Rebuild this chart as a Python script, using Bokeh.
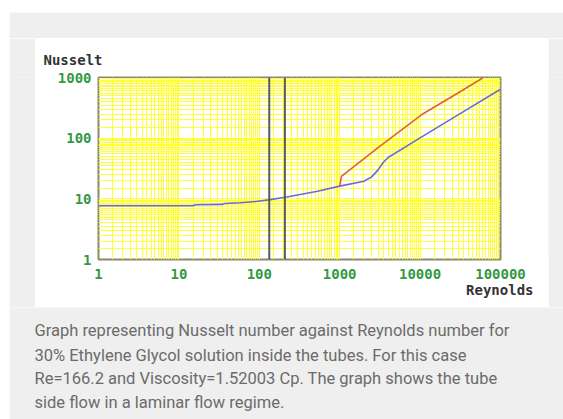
from bokeh.plotting import figure
from bokeh.layouts import column, row
from bokeh.models import (Range1d, FixedTicker, NumeralTickFormatter, Span,
                          Label, Title)
from bokeh.embed import file_html
from bokeh.resources import INLINE

# ---- data ----
x_ticks = [1, 10, 100, 1000, 10000, 100000]
y_ticks = [1, 10, 100, 1000]

re_blue = [1, 15, 16, 35, 37, 58, 95, 130, 212, 530, 1000, 2000, 2500, 3000,
           3500, 4000, 10000, 30000, 100000]
nu_blue = [7.7, 7.7, 8.0, 8.1, 8.4, 8.6, 9.1, 9.6, 10.6, 13.3, 16.2, 19.5, 23,
           30, 40, 48, 101, 244, 640]

re_red = [1000, 1050, 3000, 10500, 30000, 60000]
nu_red = [16.2, 23.5, 70, 245, 560, 980]

re_marks = [133, 208]

caption = [
    "Graph representing Nusselt number against Reynolds number for",
    "30% Ethylene Glycol solution inside the tubes. For this case",
    "Re=166.2 and Viscosity=1.52003 Cp. The graph shows the tube",
    "side flow in a laminar flow regime.",
]

# grid lines: 1, 1.5, 2, ... 9.5 in every decade
grid_steps = [1, 1.5, 2, 2.5, 3, 3.5, 4, 4.5, 5, 5.5, 6, 6.5, 7, 7.5, 8, 8.5, 9, 9.5]
x_grid = [s * d for d in x_ticks for s in grid_steps if s * d <= 100000]
y_grid = [s * d for d in y_ticks for s in grid_steps if s * d <= 1000]

GRAY = "#efefef"


def blank(w, h, color):
    f = figure(width=w, height=h, x_range=Range1d(0, 1), y_range=Range1d(0, 1),
               output_backend="svg", toolbar_location=None, min_border=0,
               x_axis_location=None, y_axis_location=None)
    f.grid.visible = False
    f.outline_line_color = None
    f.background_fill_color = color
    f.border_fill_color = color
    return f


cap = blank(554, 112, GRAY)
for line, sy in zip(caption, [89, 64, 41, 17]):
    cap.add_layout(Label(x=25, y=sy, x_units="screen", y_units="screen",
                         text=line, text_font="Roboto", text_font_size="16.5px",
                         text_color="#6b6b6b", text_baseline="middle"))

p = figure(width=513, height=269, x_axis_type="log", y_axis_type="log",
           x_range=Range1d(1, 100000), y_range=Range1d(1, 1000),
           output_backend="svg", toolbar_location=None,
           min_border_left=63, min_border_right=48,
           min_border_top=39, min_border_bottom=48)

p.border_fill_color = "white"
p.background_fill_color = "white"
p.outline_line_color = "#8a8a66"
p.outline_line_width = 2

p.xgrid.ticker = FixedTicker(ticks=x_grid)
p.ygrid.ticker = FixedTicker(ticks=y_grid)
for g in (p.xgrid, p.ygrid):
    g.grid_line_color = "#ffff33"
    g.grid_line_width = 1
    g.grid_line_alpha = 1.0

for ax, ticks in ((p.xaxis, x_ticks), (p.yaxis, y_ticks)):
    ax.ticker = FixedTicker(ticks=ticks)
    ax.formatter = NumeralTickFormatter(format="0")
    ax.axis_line_color = None
    ax.major_tick_line_color = None
    ax.minor_tick_line_color = None
    ax.major_label_text_font = "DejaVu Sans Mono"
    ax.major_label_text_font_style = "bold"
    ax.major_label_text_font_size = "14px"
    ax.major_label_text_color = "#339944"
p.xaxis.major_label_standoff = 3
p.yaxis.major_label_standoff = 1

for r in re_marks:
    p.add_layout(Span(location=r, dimension="height", line_color="#5a5a5a",
                      line_width=2))

p.line(re_blue, nu_blue, line_color="#6a6ae0", line_width=1.6)
p.line(re_red, nu_red, line_color="#e0603a", line_width=1.6)

p.title.text = "Nusselt"
p.title.align = "left"
p.title.offset = -55
p.title.standoff = 19
p.title.text_font = "DejaVu Sans Mono"
p.title.text_font_style = "bold"
p.title.text_font_size = "14px"
p.title.text_color = "#333333"

p.add_layout(Title(text="Reynolds", align="right", offset=-33, standoff=-3,
                   text_font="DejaVu Sans Mono", text_font_style="bold",
                   text_font_size="14px", text_color="#333333"), "below")

layout = column(
    blank(563, 12, "white"),
    row(blank(9, 26, "white"), blank(554, 26, GRAY)),
    row(blank(9, 269, "white"), blank(26, 269, GRAY), p, blank(15, 269, GRAY)),
    row(blank(9, 112, "white"), cap),
)

open("out.html", "w").write(file_html(layout, INLINE))
